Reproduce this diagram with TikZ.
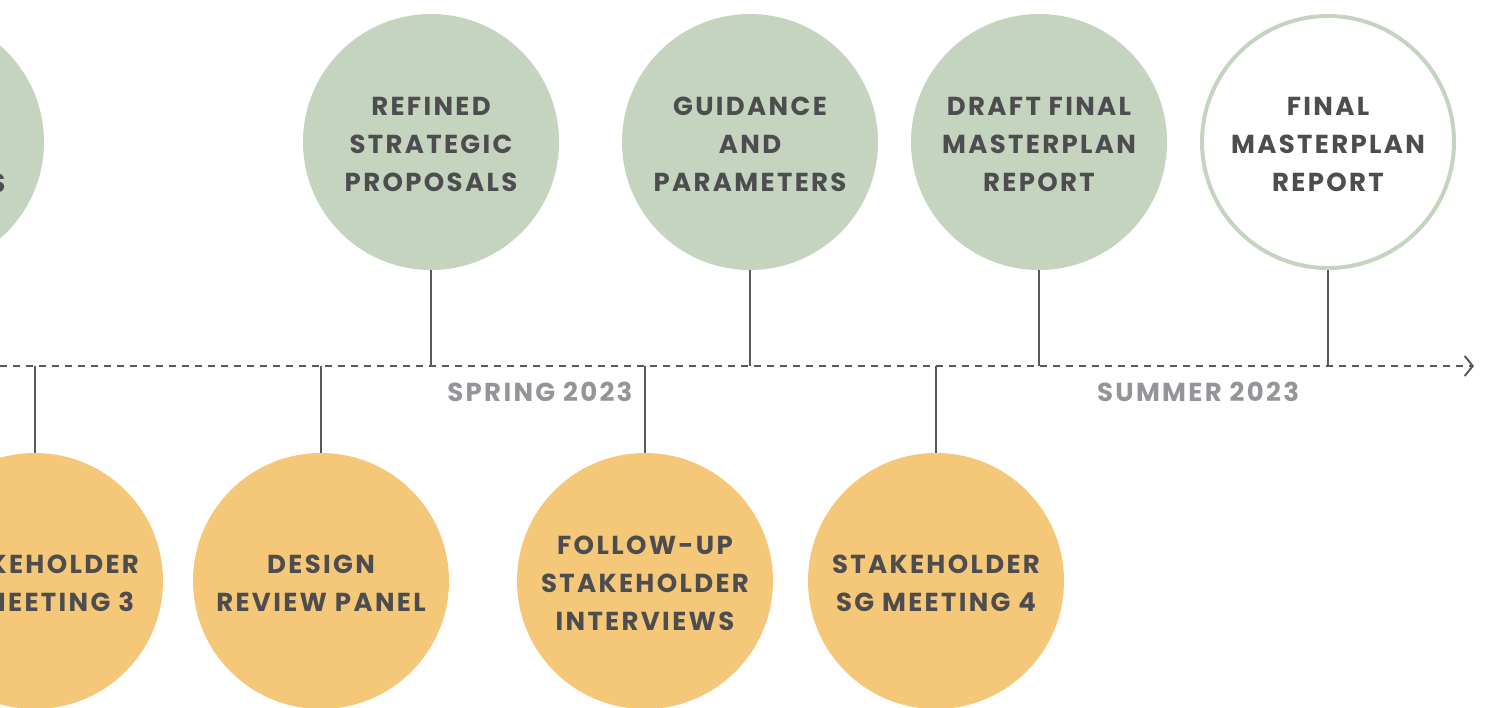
\documentclass[tikz,border=0pt]{standalone}
\usepackage{fontspec}
\setmainfont{Poppins}[LetterSpace=9]
\usetikzlibrary{arrows.meta}
\definecolor{sage}{HTML}{C4D4BF}
\definecolor{sand}{HTML}{F4C779}
\definecolor{ink}{HTML}{4D4D4F}
\definecolor{stemc}{HTML}{58595B}
\definecolor{season}{HTML}{939598}
\tikzset{
  txt/.style={font=\fontsize{26}{37.7}\selectfont\bfseries, text=ink, align=center},
  intext/.style={label={[txt, yshift=-2.5pt]center:{#1}}},
  topc/.style={circle, fill=sage, minimum size=256pt, inner sep=0pt},
  finalc/.style={circle, draw=sage, line width=4pt, fill=white, minimum size=252pt, inner sep=0pt},
  botc/.style={circle, fill=sand, minimum size=256pt, inner sep=0pt},
  stem/.style={draw=stemc, line width=2.4pt},
  axisline/.style={draw=stemc, line width=2pt, dash pattern=on 7pt off 6pt},
  seasonlbl/.style={font=\fontsize{26}{30}\selectfont\bfseries, text=season}
}
\begin{document}
\begin{tikzpicture}[x=1pt,y=-1pt]
\useasboundingbox (0,0) rectangle (1488,707);
% axis
\coordinate (axL) at (0,366);
\coordinate (axR) at (1474,366);
% top circles
\node[topc] (left) at (-84,142) {};
\node[txt, anchor=base east] (lefts) at (9,192) {S};
\node[topc, intext={REFINED\\STRATEGIC\\PROPOSALS}] (refined) at (431,142) {};
\node[topc, intext={GUIDANCE\\AND\\PARAMETERS}] (guid) at (750,142) {};
\node[topc, intext={DRAFT FINAL\\MASTERPLAN\\REPORT}] (draft) at (1039,142) {};
\node[finalc, intext={FINAL\\MASTERPLAN\\REPORT}] (final) at (1328,142) {};
% bottom circles
\node[botc, intext={STAKEHOLDER\\SG MEETING 3}] (sg3) at (35,581) {};
\node[botc, intext={DESIGN\\REVIEW PANEL}] (drp) at (321,581) {};
\node[botc, intext={FOLLOW-UP\\STAKEHOLDER\\INTERVIEWS}] (fup) at (645,581) {};
\node[botc, intext={STAKEHOLDER\\SG MEETING 4}] (sg4) at (936,581) {};
% stems
\foreach \n in {refined,guid,draft,final}
  \draw[stem] (\n.south) -- (\n.south |- axL);
\foreach \n in {sg3,drp,fup,sg4}
  \draw[stem] (\n.north) -- (\n.north |- axL);
% axis line
\draw[axisline, -{Straight Barb[length=8pt,width=20pt,line width=2pt]}] (axL) -- (axR);
% season labels
\node[seasonlbl, anchor=east] (spring) at (636,392) {SPRING 2023};
\node[seasonlbl] (summer) at (1198,392) {SUMMER 2023};
\end{tikzpicture}
\end{document}
